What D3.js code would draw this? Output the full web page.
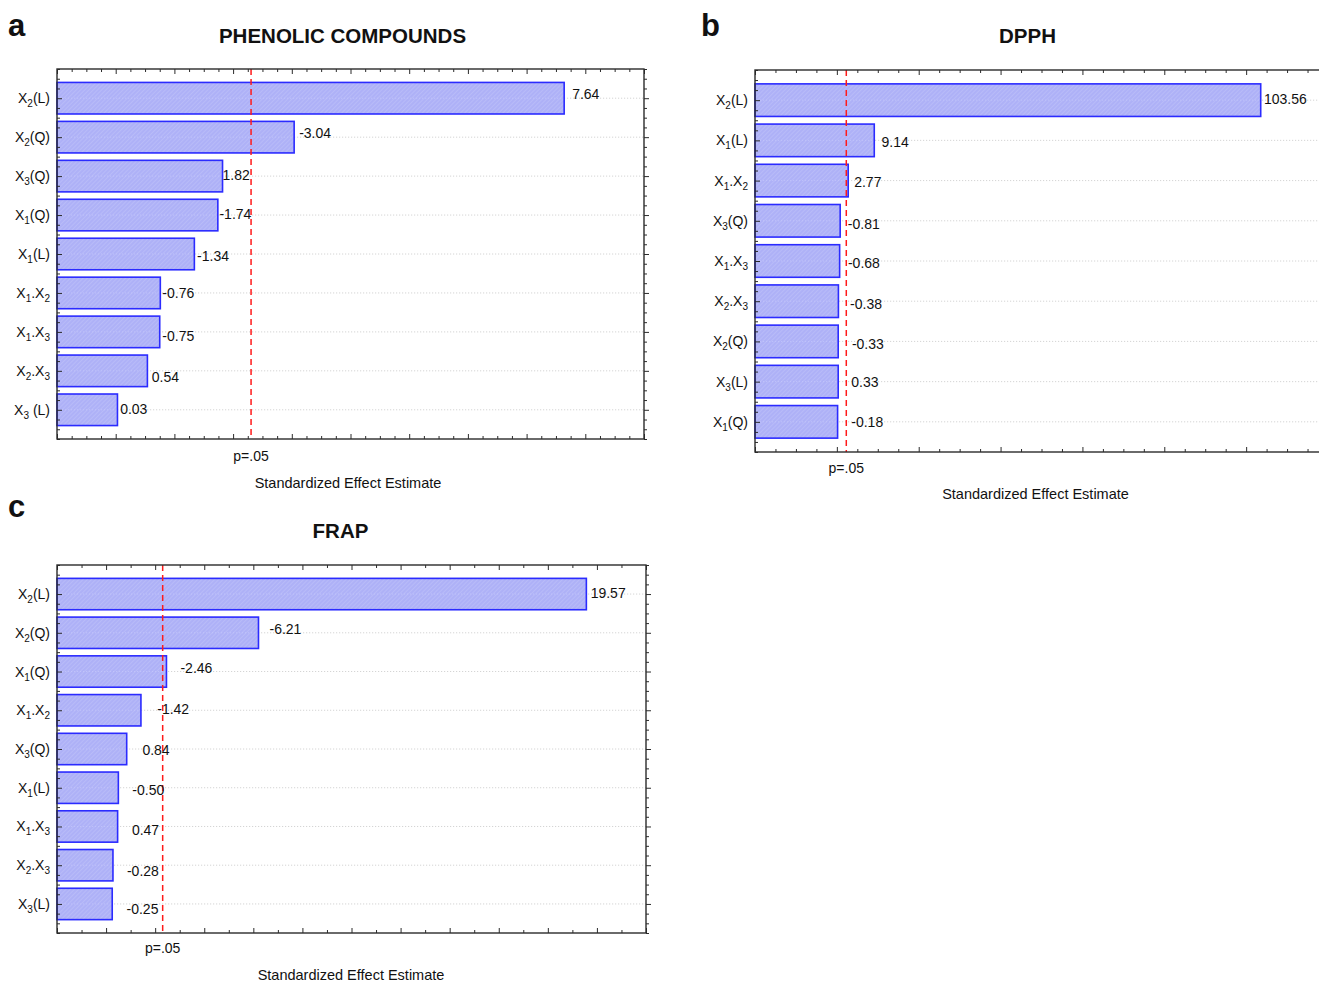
<!DOCTYPE html>
<html>
<head>
<meta charset="utf-8">
<script src="https://cdn.jsdelivr.net/npm/d3@7"></script>
<style>
  html, body { margin: 0; padding: 0; background: #fff; }
  svg { display: block; font-family: "Liberation Sans", Arial, sans-serif; }
</style>
</head>
<body>
<svg id="fig" width="1319" height="982"></svg>
<script>
// ---- Pareto charts of standardized effects ----
// Terms are written with "_n" for a subscript digit.

// (a) Phenolic compounds
const phenolicTerms   = ["X_2(L)", "X_2(Q)", "X_3(Q)", "X_1(Q)", "X_1(L)", "X_1.X_2", "X_1.X_3", "X_2.X_3", "X_3 (L)"];
const phenolicEffects = [7.64, -3.04, 1.82, -1.74, -1.34, -0.76, -0.75, 0.54, 0.03];

// (b) DPPH
const dpphTerms   = ["X_2(L)", "X_1(L)", "X_1.X_2", "X_3(Q)", "X_1.X_3", "X_2.X_3", "X_2(Q)", "X_3(L)", "X_1(Q)"];
const dpphEffects = [103.56, 9.14, 2.77, -0.81, -0.68, -0.38, -0.33, 0.33, -0.18];

// (c) FRAP
const frapTerms   = ["X_2(L)", "X_2(Q)", "X_1(Q)", "X_1.X_2", "X_3(Q)", "X_1(L)", "X_1.X_3", "X_2.X_3", "X_3(L)"];
const frapEffects = [19.57, -6.21, -2.46, -1.42, 0.84, -0.50, 0.47, -0.28, -0.25];

// Critical t value for p = .05 (df = 8)
const pCritical = 2.306;
const pLabel = "p=.05";
const axisTitle = "Standardized Effect Estimate";

// ---- layout ----
// Value-label offsets [dx from bar end, dy from bar centre], in px
const phenolicNudge = [[8,-4.5],[5,-4.5],[0,-1.5],[1.6,-0.5],[2.7,1.7],[2,0],[2.6,4],[4.4,6],[2.7,-1]];
const dpphNudge     = [[3.3,-1],[7.3,2],[6,1.7],[7.7,3.5],[8.3,2],[11.7,3],[13.7,3],[13,0],[13.7,0.3]];
const frapNudge     = [[4.3,-1],[11,-4],[14,-3],[16.3,-1.3],[15.7,1.3],[14,2.5],[14.3,4],[14,6],[14.3,5.5]];

const panels = [
  { letter: "a", title: "PHENOLIC COMPOUNDS", terms: phenolicTerms, effects: phenolicEffects, nudge: phenolicNudge,
    box: { left: 57, right: 644, top: 69, bottom: 439 }, xDomain: [-1, 9], major: 1, minor: 0.25,
    letterPos: [8, 36], titleX: 342.5, titleY: 43, pY: 461, axisX: 348, axisY: 488, rightEdge: true },
  { letter: "b", title: "DPPH", terms: dpphTerms, effects: dpphEffects, nudge: dpphNudge,
    box: { left: 755, right: 1328, top: 70, bottom: 452 }, xDomain: [-20, 120], major: 20, minor: 5,
    letterPos: [701, 36], titleX: 1027.5, titleY: 43, pY: 473, axisX: 1035.5, axisY: 499, rightEdge: false },
  { letter: "c", title: "FRAP", terms: frapTerms, effects: frapEffects, nudge: frapNudge,
    box: { left: 57, right: 646, top: 565, bottom: 933 }, xDomain: [-2, 22], major: 2, minor: 1,
    letterPos: [8, 517], titleX: 340.5, titleY: 538, pY: 953, axisX: 351, axisY: 980, rightEdge: true }
];

const svg = d3.select("#fig");
svg.append("rect").attr("width", 1319).attr("height", 982).attr("fill", "#fff");

// fine hatched fill used by the bars
const defs = svg.append("defs");
const pat = defs.append("pattern")
  .attr("id", "barFill").attr("patternUnits", "userSpaceOnUse")
  .attr("width", 3).attr("height", 3).attr("patternTransform", "rotate(45)");
pat.append("rect").attr("width", 3).attr("height", 3).attr("fill", "#aeb1f7");
pat.append("line").attr("x1", 0).attr("y1", 0).attr("x2", 0).attr("y2", 3)
  .attr("stroke", "#bfc2fa").attr("stroke-width", 1.2);

const BAR_HALF = 0.405;       // half bar thickness in category units
const MAJOR_LEN = 5, MINOR_LEN = 3;
const frameColor = "#2b2b2b";

function isMajor(v, step) {
  const r = v / step;
  return Math.abs(r - Math.round(r)) < 1e-6;
}

// write a term such as "X_1.X_2" with subscript digits
function writeTerm(textSel, term) {
  const parts = term.split(/(_\d)/).filter(s => s.length);
  let shifted = false;
  parts.forEach(p => {
    if (p[0] === "_") {
      textSel.append("tspan").attr("font-size", 10).attr("dy", 4).text(p.slice(1));
      shifted = true;
    } else {
      const t = textSel.append("tspan").text(p);
      if (shifted) { t.attr("dy", -4); shifted = false; }
    }
  });
}

panels.forEach(P => {
  const g = svg.append("g");
  const { left, right, top, bottom } = P.box;

  const x = d3.scaleLinear().domain(P.xDomain).range([left, right]);
  const y = d3.scaleLinear().domain([0.25, P.terms.length + 0.75]).range([top, bottom]);

  const xTicks = d3.range(P.xDomain[0], P.xDomain[1] + P.minor / 2, P.minor);
  const xMinor = xTicks.filter(v => !isMajor(v, P.major));
  const xMajor = xTicks.filter(v => isMajor(v, P.major));
  const yTicks = d3.range(0.25, P.terms.length + 0.75 + 0.01, 0.25);
  const yMinor = yTicks.filter(v => !isMajor(v, 1));
  const yMajor = yTicks.filter(v => isMajor(v, 1));

  // dotted guide lines at each term
  g.append("g").selectAll("line").data(P.terms).join("line")
    .attr("x1", left).attr("x2", right)
    .attr("y1", (d, i) => y(i + 1)).attr("y2", (d, i) => y(i + 1))
    .attr("stroke", "#c9c9c9").attr("stroke-width", 0.8).attr("stroke-dasharray", "1.2,1.8");

  // bars: absolute effect, drawn from the axis minimum
  g.append("g").selectAll("rect").data(P.effects).join("rect")
    .attr("x", x(P.xDomain[0]))
    .attr("y", (d, i) => y(i + 1 - BAR_HALF))
    .attr("width", d => x(Math.abs(d)) - x(P.xDomain[0]))
    .attr("height", (d, i) => y(i + 1 + BAR_HALF) - y(i + 1 - BAR_HALF))
    .attr("fill", "url(#barFill)")
    .attr("stroke", "#2b2bff").attr("stroke-width", 1.6);

  // faint dotted guides showing through the bars
  g.append("g").selectAll("line").data(P.effects).join("line")
    .attr("x1", x(P.xDomain[0]) + 2).attr("x2", d => x(Math.abs(d)) - 2)
    .attr("y1", (d, i) => y(i + 1)).attr("y2", (d, i) => y(i + 1))
    .attr("stroke", "#c4c7fb").attr("stroke-width", 0.8).attr("stroke-dasharray", "1.2,1.8");

  // significance threshold
  g.append("line")
    .attr("x1", x(pCritical)).attr("x2", x(pCritical))
    .attr("y1", top).attr("y2", bottom)
    .attr("stroke", "#ff1a1a").attr("stroke-width", 1.5).attr("stroke-dasharray", "6,4");

  // value labels
  g.append("g").selectAll("text").data(P.effects).join("text")
    .attr("x", (d, i) => x(Math.abs(d)) + P.nudge[i][0])
    .attr("y", (d, i) => y(i + 1) + P.nudge[i][1])
    .attr("dy", "0.35em")
    .attr("font-size", 14).attr("fill", "#111")
    .text(d => d.toFixed(2));

  // inward ticks on all four sides
  const axes = [
    [d3.axisBottom(x), `translate(0,${bottom})`, xMinor, xMajor],
    [d3.axisTop(x), `translate(0,${top})`, xMinor, xMajor],
    [d3.axisRight(y), `translate(${left},0)`, yMinor, yMajor],
  ];
  if (P.rightEdge) axes.push([d3.axisLeft(y), `translate(${right},0)`, yMinor, yMajor]);
  // axisRight placed on the left edge with positive size points inward (to the right)
  axes.forEach(([ax, tr, mn, mj], k) => {
    const inward = (k === 2) ? 1 : -1;
    [[mn, MINOR_LEN], [mj, MAJOR_LEN]].forEach(([vals, len]) => {
      const a = g.append("g").attr("transform", tr)
        .call(ax.tickValues(vals).tickSize(k === 2 ? len : -len).tickFormat(""));
      a.select(".domain").remove();
      a.selectAll("line").attr("stroke", frameColor).attr("stroke-width", 1);
    });
  });

  // frame
  g.append("rect")
    .attr("x", left).attr("y", top)
    .attr("width", right - left).attr("height", bottom - top)
    .attr("fill", "none").attr("stroke", frameColor).attr("stroke-width", 1.4);

  // term labels
  P.terms.forEach((t, i) => {
    const tx = g.append("text")
      .attr("x", left - 7).attr("y", y(i + 1) + 5)
      .attr("text-anchor", "end").attr("font-size", 14).attr("fill", "#111");
    writeTerm(tx, t);
  });

  // threshold label and axis title
  g.append("text").attr("x", x(pCritical)).attr("y", P.pY)
    .attr("text-anchor", "middle").attr("font-size", 14).attr("fill", "#111").text(pLabel);
  g.append("text").attr("x", P.axisX).attr("y", P.axisY)
    .attr("text-anchor", "middle").attr("font-size", 14.5).attr("fill", "#111").text(axisTitle);

  // panel title and letter
  g.append("text").attr("x", P.titleX).attr("y", P.titleY)
    .attr("text-anchor", "middle").attr("font-size", 20.5).attr("font-weight", "bold")
    .attr("fill", "#111").text(P.title);
  g.append("text").attr("x", P.letterPos[0]).attr("y", P.letterPos[1])
    .attr("font-size", 31).attr("font-weight", "bold").attr("fill", "#111").text(P.letter);
});
</script>
</body>
</html>
